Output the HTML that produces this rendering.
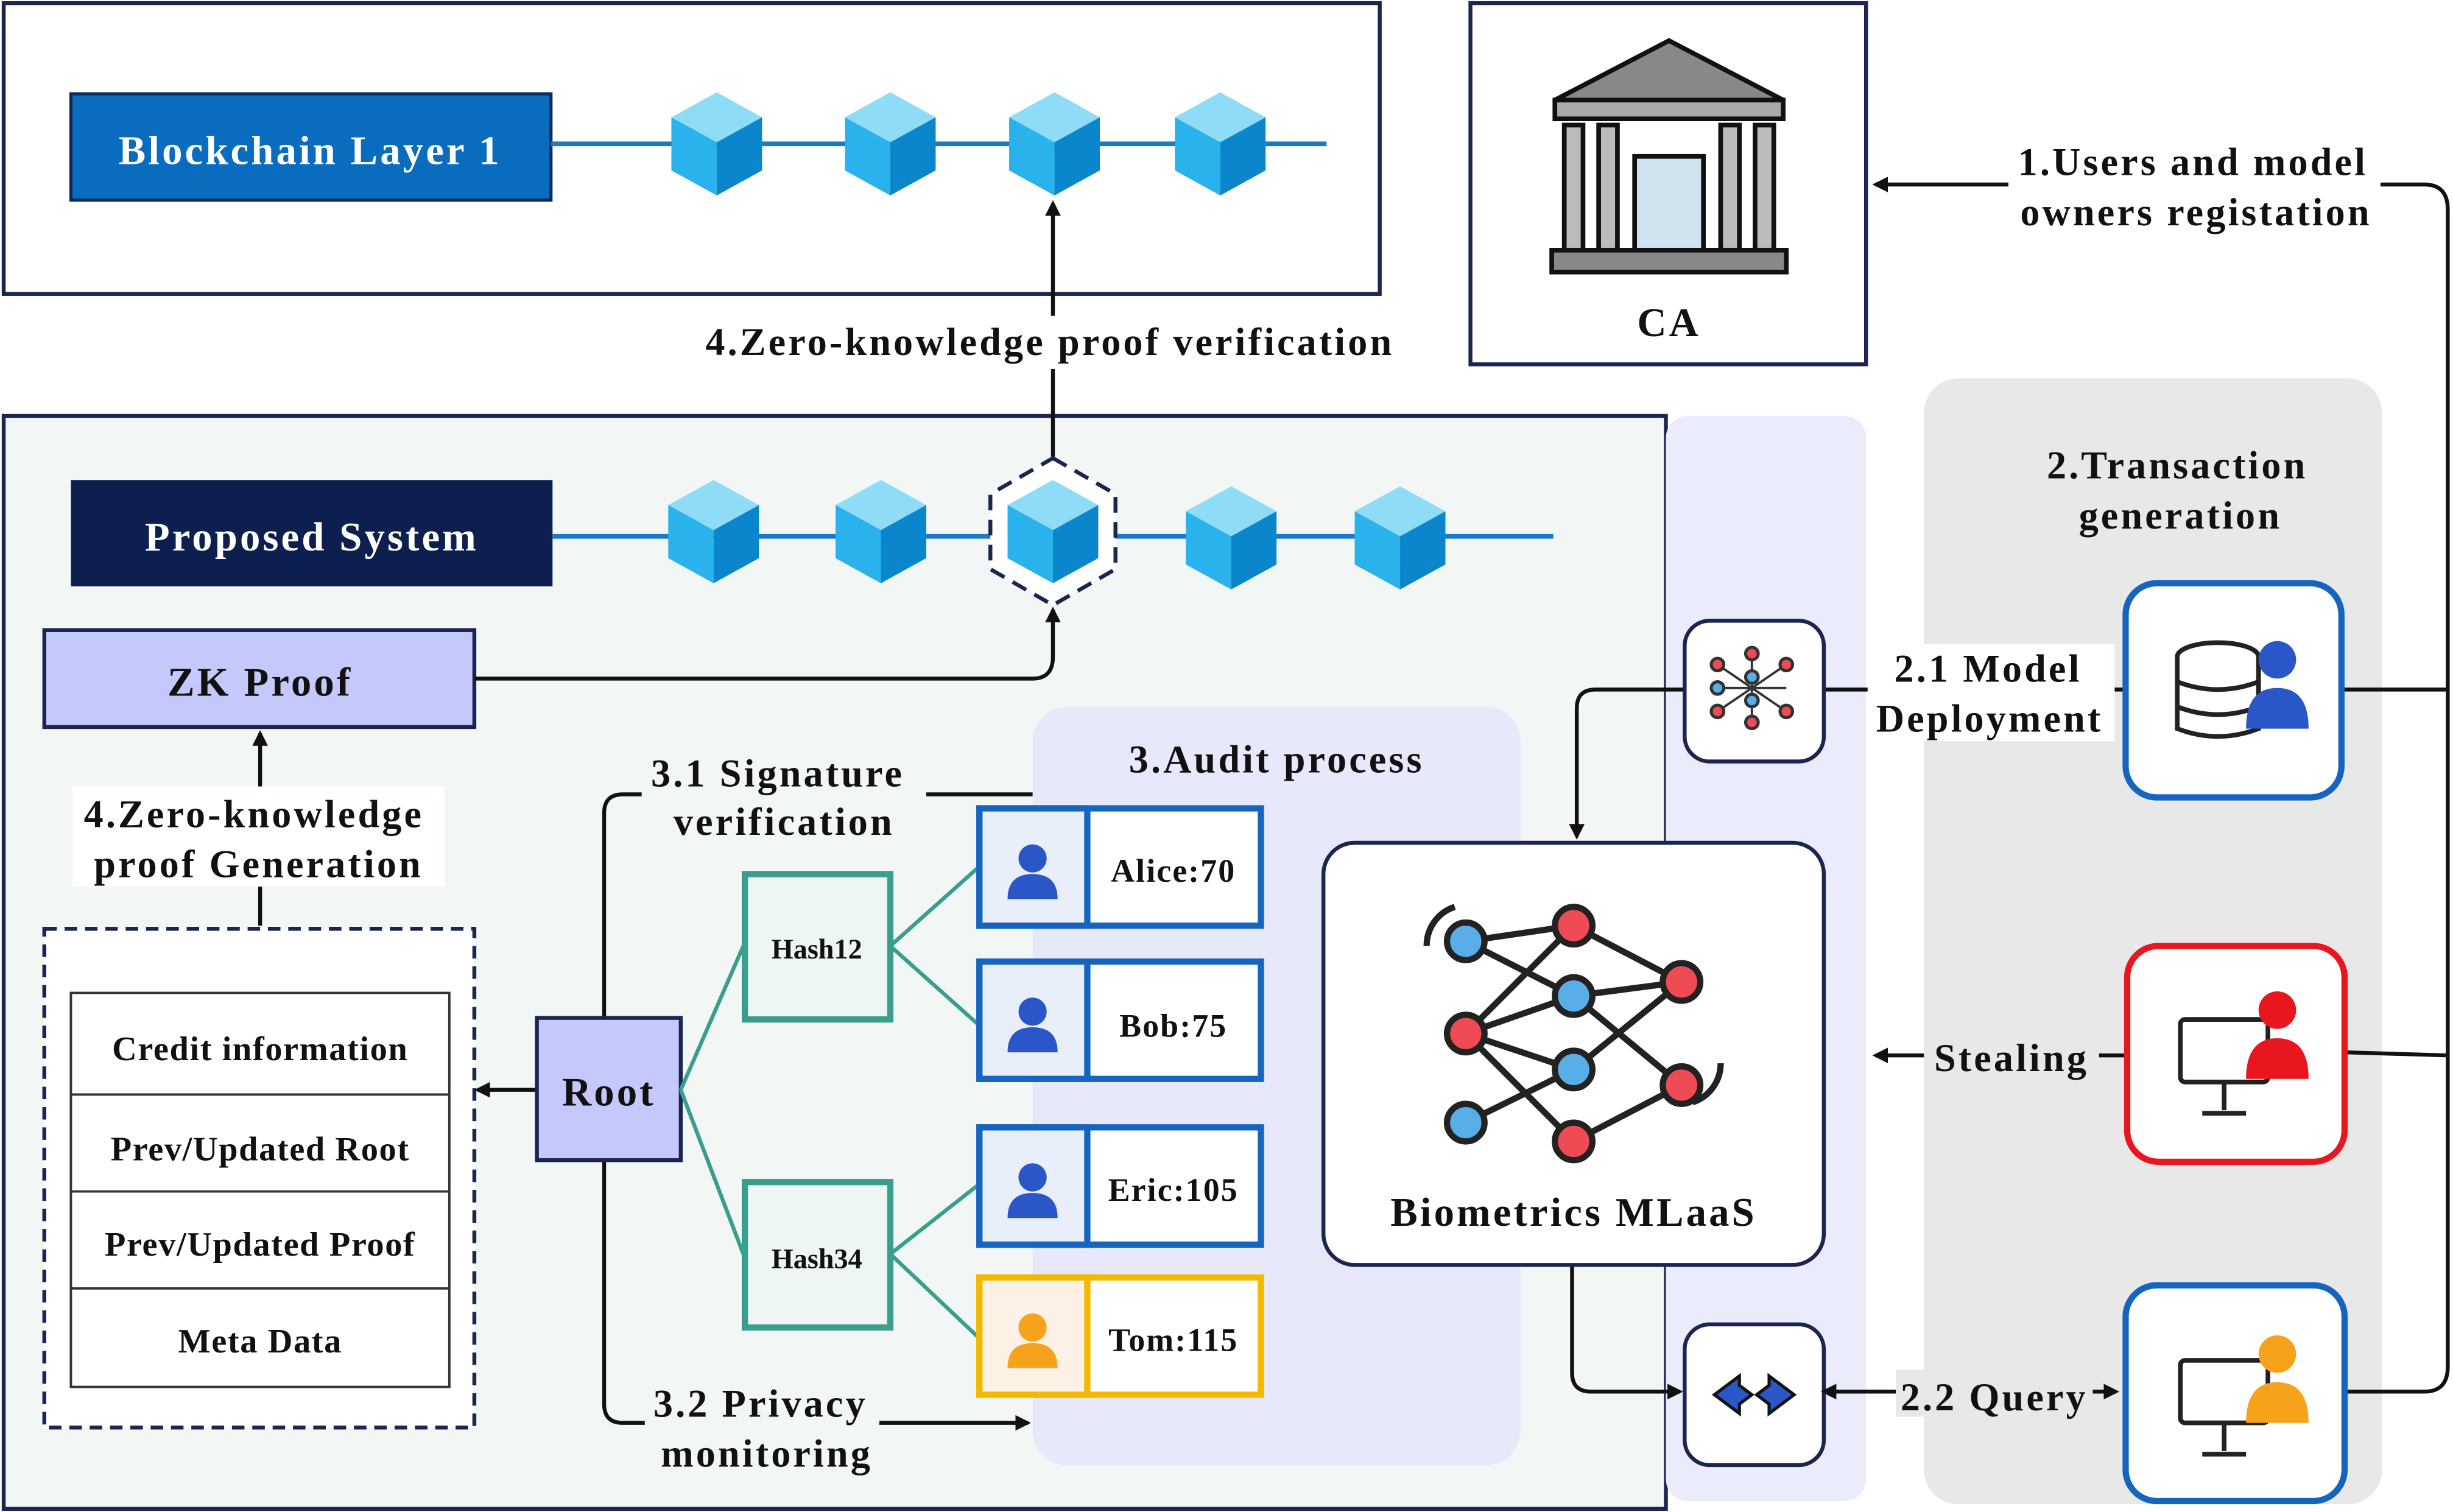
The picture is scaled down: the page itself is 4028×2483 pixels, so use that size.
<!DOCTYPE html>
<html><head><meta charset="utf-8"><style>
html,body{margin:0;padding:0;background:#fff;}
svg{display:block;}
text{font-family:"Liberation Serif",serif;font-weight:bold;fill:#111;letter-spacing:1.6px;}
</style></head><body>
<svg width="4028" height="2483" viewBox="0 0 1568 967" xmlns="http://www.w3.org/2000/svg">
<defs>
<g id="cube">
<polygon points="0,-33 29,-17 0,-1 -29,-17" fill="#8fdcf7"/>
<polygon points="-29,-17 0,-1 0,33 -29,17" fill="#29b2ec"/>
<polygon points="29,-17 0,-1 0,33 29,17" fill="#0b86cc"/>
</g>
<g id="person">
<circle cx="0" cy="-10" r="9"/>
<path d="M-16,16 Q-16,0 0,0 Q16,0 16,16 Z"/>
</g>
<marker id="ah" markerWidth="10" markerHeight="10" refX="8" refY="5" orient="auto" markerUnits="userSpaceOnUse">
<path d="M0,0 L10,5 L0,10 Z" fill="#111"/>
</marker>
<marker id="ahs" markerWidth="10" markerHeight="10" refX="2" refY="5" orient="auto-start-reverse" markerUnits="userSpaceOnUse">
<path d="M0,0 L10,5 L0,10 Z" fill="#111"/>
</marker>
</defs>

<rect x="2" y="266" width="1063" height="699" fill="#f2f7f6" stroke="#1a2550" stroke-width="2.5"/>
<rect x="1065" y="266" width="128" height="694" rx="14" fill="#ebecfb"/>
<rect x="1230" y="242" width="293" height="720" rx="22" fill="#e8e8e8"/>
<rect x="660" y="452" width="312" height="485" rx="22" fill="#e7e8fa"/>

<rect x="2" y="2" width="880" height="186" fill="#fff" stroke="#1a2550" stroke-width="2.5"/>
<rect x="45" y="60" width="307" height="68" fill="#0a6cbf" stroke="#0b2a5a" stroke-width="2"/>
<text x="198" y="105" text-anchor="middle" font-size="26" style="fill:#fff">Blockchain Layer 1</text>
<line x1="352" y1="92" x2="848" y2="92" stroke="#1a7ac8" stroke-width="3"/>
<use href="#cube" x="458" y="92"/><use href="#cube" x="569" y="92"/><use href="#cube" x="674" y="92"/><use href="#cube" x="780" y="92"/>

<rect x="940" y="2" width="253" height="231" fill="#fff" stroke="#1a2550" stroke-width="2.5"/>
<g stroke="#111" stroke-width="3">
<polygon points="1067,26 1140,64 994,64" fill="#888"/>
<rect x="994" y="64" width="146" height="12" fill="#aaa"/>
<rect x="1000" y="80" width="12" height="80" fill="#bbb"/>
<rect x="1022" y="80" width="12" height="80" fill="#bbb"/>
<rect x="1100" y="80" width="12" height="80" fill="#bbb"/>
<rect x="1122" y="80" width="12" height="80" fill="#bbb"/>
<rect x="1045" y="100" width="44" height="62" fill="#cfe3ef"/>
<rect x="992" y="160" width="150" height="14" fill="#888"/>
</g>
<text x="1067" y="215" text-anchor="middle" font-size="26">CA</text>

<path d="M1520,118 L1550,118 Q1565,118 1565,134 L1565,874 Q1565,890 1550,890 L1499,890" fill="none" stroke="#111" stroke-width="2.5"/>
<line x1="1285" y1="118" x2="1199" y2="118" stroke="#111" stroke-width="2.5" marker-end="url(#ah)"/>
<rect x="1284" y="90" width="238" height="58" fill="#fff"/>
<text x="1402" y="112" text-anchor="middle" font-size="25">1.Users and model</text>
<text x="1404" y="144" text-anchor="middle" font-size="25">owners registation</text>

<rect x="45" y="307" width="308" height="68" fill="#0d1f4f"/>
<text x="199" y="352" text-anchor="middle" font-size="26" style="fill:#fff">Proposed System</text>
<line x1="353" y1="343" x2="993" y2="343" stroke="#1a7ac8" stroke-width="3"/>
<polygon points="673,293 713,316 713,364 673,387 633,364 633,316" fill="#fff" stroke="#1a2550" stroke-width="2.5" stroke-dasharray="10,6"/>
<use href="#cube" x="456" y="340"/><use href="#cube" x="563" y="340"/><use href="#cube" x="673" y="340"/><use href="#cube" x="787" y="344"/><use href="#cube" x="895" y="344"/>
<line x1="673" y1="292" x2="673" y2="130" stroke="#111" stroke-width="2.5" marker-end="url(#ah)"/>
<rect x="440" y="202" width="462" height="34" fill="#fff"/>
<text x="671" y="227" text-anchor="middle" font-size="25">4.Zero-knowledge proof verification</text>

<rect x="28" y="403" width="275" height="62" fill="#c5c8fa" stroke="#1a2550" stroke-width="2.5"/>
<text x="166" y="445" text-anchor="middle" font-size="26">ZK Proof</text>
<path d="M303,434 L660,434 Q673,434 673,420 L673,390" fill="none" stroke="#111" stroke-width="2.5" marker-end="url(#ah)"/>
<line x1="166" y1="592" x2="166" y2="469" stroke="#111" stroke-width="2.5" marker-end="url(#ah)"/>
<rect x="46" y="503" width="238" height="64" fill="#fff"/>
<text x="162" y="529" text-anchor="middle" font-size="25">4.Zero-knowledge</text>
<text x="165" y="561" text-anchor="middle" font-size="25">proof Generation</text>

<rect x="28" y="594" width="275" height="319" fill="#fff" stroke="#1a2550" stroke-width="2.5" stroke-dasharray="8,5"/>
<rect x="45" y="635" width="242" height="252" fill="#fff" stroke="#333" stroke-width="1.5"/>
<line x1="45" y1="700" x2="287" y2="700" stroke="#333" stroke-width="1.5"/>
<line x1="45" y1="762" x2="287" y2="762" stroke="#333" stroke-width="1.5"/>
<line x1="45" y1="824" x2="287" y2="824" stroke="#333" stroke-width="1.5"/>
<text x="166" y="678" text-anchor="middle" font-size="22" style="letter-spacing:0.6px">Credit information</text>
<text x="166" y="742" text-anchor="middle" font-size="22" style="letter-spacing:0.6px">Prev/Updated Root</text>
<text x="166" y="803" text-anchor="middle" font-size="22" style="letter-spacing:0.6px">Prev/Updated Proof</text>
<text x="166" y="865" text-anchor="middle" font-size="22" style="letter-spacing:0.6px">Meta Data</text>

<line x1="343" y1="697" x2="305" y2="697" stroke="#111" stroke-width="2.5" marker-end="url(#ah)"/>
<path d="M386,651 L386,520 Q386,508 398,508 L660,508" fill="none" stroke="#111" stroke-width="2.5"/>
<path d="M386,742 L386,898 Q386,910 398,910 L657,910" fill="none" stroke="#111" stroke-width="2.5" marker-end="url(#ah)"/>
<rect x="343" y="651" width="92" height="91" fill="#c5c8fa" stroke="#1a2550" stroke-width="2.5"/>
<text x="389" y="707" text-anchor="middle" font-size="26">Root</text>
<rect x="410" y="478" width="182" height="62" fill="#f2f7f6"/>
<text x="497" y="503" text-anchor="middle" font-size="25">3.1 Signature</text>
<text x="501" y="534" text-anchor="middle" font-size="25">verification</text>
<rect x="412" y="882" width="150" height="62" fill="#f2f7f6"/>
<text x="486" y="906" text-anchor="middle" font-size="25">3.2 Privacy</text>
<text x="490" y="938" text-anchor="middle" font-size="25">monitoring</text>

<g stroke="#3a9e8f" stroke-width="2.5">
<line x1="435" y1="697" x2="475" y2="605"/><line x1="435" y1="697" x2="475" y2="802"/>
<line x1="569" y1="605" x2="625" y2="555"/><line x1="569" y1="605" x2="625" y2="655"/>
<line x1="569" y1="802" x2="625" y2="758"/><line x1="569" y1="802" x2="625" y2="855"/>
</g>
<rect x="476" y="559" width="93" height="93" fill="#eef6f3" stroke="#3a9e8f" stroke-width="4"/>
<rect x="476" y="756" width="93" height="93" fill="#eef6f3" stroke="#3a9e8f" stroke-width="4"/>
<text x="522" y="613" text-anchor="middle" font-size="18" style="letter-spacing:0">Hash12</text>
<text x="522" y="811" text-anchor="middle" font-size="18" style="letter-spacing:0">Hash34</text>
<text x="816" y="494" text-anchor="middle" font-size="25">3.Audit process</text>

<g stroke="#1565c0" stroke-width="4">
<rect x="626" y="517" width="180" height="75" fill="#fff"/><rect x="626" y="517" width="69" height="75" fill="#e8eefa"/>
<rect x="626" y="615" width="180" height="75" fill="#fff"/><rect x="626" y="615" width="69" height="75" fill="#e8eefa"/>
<rect x="626" y="721" width="180" height="75" fill="#fff"/><rect x="626" y="721" width="69" height="75" fill="#e8eefa"/>
</g>
<g stroke="#f5b800" stroke-width="4">
<rect x="626" y="817" width="180" height="75" fill="#fff"/><rect x="626" y="817" width="69" height="75" fill="#fdf0e4"/>
</g>
<g fill="#2a56c8"><use href="#person" x="660" y="559"/><use href="#person" x="660" y="657"/><use href="#person" x="660" y="763"/></g>
<g fill="#f7a21b"><use href="#person" x="660" y="859"/></g>
<text x="750" y="564" text-anchor="middle" font-size="21" style="letter-spacing:0.8px">Alice:70</text>
<text x="750" y="663" text-anchor="middle" font-size="21" style="letter-spacing:0.8px">Bob:75</text>
<text x="750" y="768" text-anchor="middle" font-size="21" style="letter-spacing:0.8px">Eric:105</text>
<text x="750" y="864" text-anchor="middle" font-size="21" style="letter-spacing:0.8px">Tom:115</text>

<path d="M1005,809 L1005,878 Q1005,890 1017,890 L1074,890" fill="none" stroke="#111" stroke-width="2.5" marker-end="url(#ah)"/>
<rect x="846" y="539" width="320" height="270" rx="20" fill="#fff" stroke="#1a2550" stroke-width="2.5"/>
<g stroke="#222" stroke-width="4">
<line x1="937" y1="602" x2="1006" y2="592"/><line x1="937" y1="602" x2="1006" y2="637"/><line x1="937" y1="661" x2="1006" y2="592"/>
<line x1="937" y1="661" x2="1006" y2="637"/><line x1="937" y1="661" x2="1006" y2="684"/><line x1="937" y1="661" x2="1006" y2="730"/>
<line x1="937" y1="718" x2="1006" y2="684"/><line x1="1006" y1="592" x2="1075" y2="628"/><line x1="1006" y1="637" x2="1075" y2="628"/>
<line x1="1006" y1="637" x2="1075" y2="694"/><line x1="1006" y1="684" x2="1075" y2="628"/><line x1="1006" y1="730" x2="1075" y2="694"/>
</g>
<g stroke="#222" stroke-width="4">
<circle cx="937" cy="602" r="12" fill="#5aaee8"/><circle cx="937" cy="661" r="12" fill="#ef4b55"/><circle cx="937" cy="718" r="12" fill="#5aaee8"/>
<circle cx="1006" cy="592" r="12" fill="#ef4b55"/><circle cx="1006" cy="637" r="12" fill="#5aaee8"/><circle cx="1006" cy="684" r="12" fill="#5aaee8"/><circle cx="1006" cy="730" r="12" fill="#ef4b55"/>
<circle cx="1075" cy="628" r="12" fill="#ef4b55"/><circle cx="1075" cy="694" r="12" fill="#ef4b55"/>
</g>
<path d="M912,605 A26,26 0 0 1 930,580" fill="none" stroke="#222" stroke-width="4"/>
<path d="M1100,680 A26,26 0 0 1 1082,705" fill="none" stroke="#222" stroke-width="4"/>
<text x="1006" y="784" text-anchor="middle" font-size="26">Biometrics MLaaS</text>

<path d="M1077,441 L1020,441 Q1008,441 1008,453 L1008,535" fill="none" stroke="#111" stroke-width="2.5" marker-end="url(#ah)"/>
<line x1="1166" y1="441" x2="1359" y2="441" stroke="#111" stroke-width="2.5"/>
<rect x="1077" y="397" width="89" height="90" rx="16" fill="#fff" stroke="#1a2550" stroke-width="2.5"/>
<g stroke="#333" stroke-width="1.5"><line x1="1098" y1="425" x2="1142" y2="455"/><line x1="1098" y1="455" x2="1142" y2="425"/><line x1="1098" y1="440" x2="1142" y2="440"/><line x1="1120" y1="418" x2="1120" y2="462"/></g>
<g stroke="#333" stroke-width="2"><circle cx="1098" cy="425" r="4" fill="#ef4b55"/><circle cx="1098" cy="440" r="4" fill="#5aaee8"/><circle cx="1098" cy="455" r="4" fill="#ef4b55"/><circle cx="1120" cy="418" r="4" fill="#ef4b55"/><circle cx="1120" cy="433" r="4" fill="#5aaee8"/><circle cx="1120" cy="448" r="4" fill="#5aaee8"/><circle cx="1120" cy="462" r="4" fill="#ef4b55"/><circle cx="1142" cy="425" r="4" fill="#ef4b55"/><circle cx="1142" cy="455" r="4" fill="#ef4b55"/></g>
<rect x="1077" y="847" width="89" height="90" rx="16" fill="#fff" stroke="#1a2550" stroke-width="2.5"/>
<polygon points="1096,892 1112,880 1112,886 1120,892 1112,898 1112,904" fill="#2a56c8" stroke="#111" stroke-width="2"/>
<polygon points="1147,892 1131,880 1131,886 1123,892 1131,898 1131,904" fill="#2a56c8" stroke="#111" stroke-width="2"/>

<text x="1392" y="306" text-anchor="middle" font-size="25">2.Transaction</text>
<text x="1394" y="338" text-anchor="middle" font-size="25">generation</text>
<line x1="1497" y1="441" x2="1565" y2="441" stroke="#111" stroke-width="2.5"/>
<line x1="1499" y1="673" x2="1565" y2="675" stroke="#111" stroke-width="2.5"/>
<rect x="1194" y="412" width="158" height="62" fill="#fff"/>
<text x="1271" y="436" text-anchor="middle" font-size="25">2.1 Model</text>
<text x="1272" y="468" text-anchor="middle" font-size="25">Deployment</text>
<line x1="1360" y1="675" x2="1199" y2="675" stroke="#111" stroke-width="2.5" marker-end="url(#ah)"/>
<rect x="1230" y="660" width="112" height="30" fill="#e8e8e8"/>
<text x="1286" y="685" text-anchor="middle" font-size="25">Stealing</text>
<line x1="1172" y1="890" x2="1353" y2="890" stroke="#111" stroke-width="2.5" marker-start="url(#ahs)" marker-end="url(#ah)"/>
<rect x="1212" y="876" width="126" height="30" fill="#e8e8e8"/>
<text x="1275" y="902" text-anchor="middle" font-size="25">2.2 Query</text>

<rect x="1359" y="373" width="138" height="137" rx="20" fill="#fff" stroke="#1565c0" stroke-width="4"/>
<g stroke="#222" stroke-width="3" fill="#fff">
<ellipse cx="1418" cy="420" rx="26" ry="9"/><path d="M1392,420 L1392,466 Q1418,476 1444,466 L1444,420"/>
<path d="M1392,436 Q1418,446 1444,436"/><path d="M1392,452 Q1418,462 1444,452"/>
</g>
<g fill="#2a56c8"><circle cx="1456" cy="422" r="12"/><path d="M1436,466 Q1436,440 1456,440 Q1476,440 1476,466 Z"/></g>

<rect x="1360" y="605" width="139" height="138" rx="20" fill="#fff" stroke="#e8161e" stroke-width="4"/>
<g stroke="#222" stroke-width="3" fill="#fff"><rect x="1394" y="652" width="56" height="40" rx="3"/><line x1="1422" y1="692" x2="1422" y2="710"/><line x1="1408" y1="712" x2="1436" y2="712"/></g>
<g fill="#e8161e"><circle cx="1456" cy="646" r="12"/><path d="M1436,690 Q1436,664 1456,664 Q1476,664 1476,690 Z"/></g>

<rect x="1359" y="822" width="140" height="138" rx="20" fill="#fff" stroke="#1565c0" stroke-width="4"/>
<g stroke="#222" stroke-width="3" fill="#fff"><rect x="1394" y="870" width="56" height="40" rx="3"/><line x1="1422" y1="910" x2="1422" y2="928"/><line x1="1408" y1="930" x2="1436" y2="930"/></g>
<g fill="#f7a21b"><circle cx="1456" cy="866" r="12"/><path d="M1436,910 Q1436,884 1456,884 Q1476,884 1476,910 Z"/></g>
</svg>
</body></html>
